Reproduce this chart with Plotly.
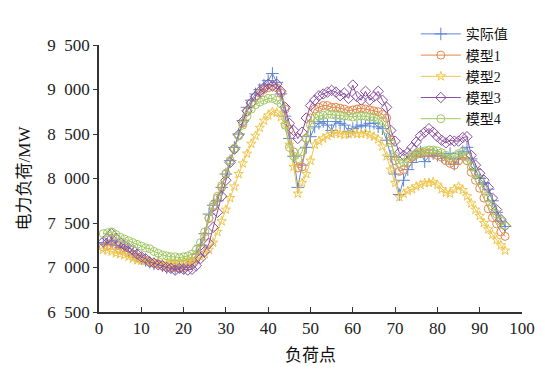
import plotly.graph_objects as go

x_points = list(range(1, 97))

actual = [7280, 7260, 7300, 7250, 7220, 7230, 7180, 7150, 7130, 7100,
          7080, 7060, 7040, 7060, 7020, 7000, 7010, 6990, 7010, 7000,
          7030, 7060, 7150, 7250, 7380, 7600, 7700, 7750, 7900, 8050,
          8200, 8350, 8500, 8650, 8800, 8880, 8950, 9000, 9050, 9100,
          9180, 9080, 8950, 8700, 8450, 8250, 7900, 8150, 8350, 8470,
          8580, 8620, 8640, 8600, 8540, 8640, 8620, 8600, 8530, 8560,
          8580, 8600, 8590, 8620, 8620, 8580, 8560, 8430, 8250, 8050,
          7820, 7980, 8100, 8180, 8250, 8300, 8190, 8250, 8280, 8260,
          8250, 8230, 8280, 8160, 8230, 8300, 8350, 8220, 8100, 8000,
          7950, 7880, 7750, 7620, 7520, 7460]

model1 = [7230, 7250, 7280, 7240, 7200, 7220, 7170, 7150, 7120, 7100,
          7080, 7060, 7050, 7040, 7020, 7010, 7000, 7000, 6990, 7000,
          7020, 7050, 7120, 7220, 7350, 7550, 7680, 7780, 7900, 8050,
          8200, 8330, 8480, 8620, 8750, 8850, 8920, 8960, 9000, 9020,
          9040, 9020, 8960, 8780, 8550, 8300, 8120, 8130, 8450, 8680,
          8780, 8800, 8820, 8820, 8800, 8800, 8790, 8780, 8760, 8770,
          8780, 8790, 8780, 8770, 8760, 8750, 8720, 8680, 8430, 8200,
          8080, 8100, 8180, 8240, 8270, 8280, 8290, 8290, 8280, 8260,
          8240, 8200, 8170, 8150, 8200, 8250, 8200, 8070, 7980, 7890,
          7780, 7660, 7560, 7490, 7400, 7350]

model2 = [7200, 7190, 7180, 7160, 7150, 7140, 7120, 7100, 7080, 7080,
          7070, 7060, 7050, 7050, 7040, 7045, 7050, 7060, 7060, 7070,
          7080, 7080, 7090, 7120, 7150, 7200, 7280, 7400, 7520, 7650,
          7780, 7910, 8050, 8170, 8280, 8390, 8480, 8570, 8650, 8710,
          8750, 8740, 8690, 8600, 8380, 8130, 7830, 7950, 8050, 8200,
          8380, 8420, 8450, 8480, 8500, 8510, 8500, 8490, 8500, 8510,
          8500, 8500, 8510, 8490, 8470, 8440, 8360, 8250, 8100, 7950,
          7790, 7830, 7860, 7880, 7910, 7930, 7950, 7950, 7960, 7930,
          7880, 7840, 7830, 7880, 7910, 7870, 7800, 7720, 7650, 7580,
          7500, 7430, 7370, 7310, 7250, 7190]

model3 = [7290, 7330, 7380, 7330, 7280, 7250, 7220, 7200, 7150, 7120,
          7100, 7060, 7050, 7030, 7020, 7000, 6990, 6970, 6990, 6980,
          6970, 6980, 7020, 7100, 7180, 7270, 7450, 7620, 7800, 7980,
          8180, 8330, 8490, 8640, 8760, 8850, 8920, 8980, 9020, 9060,
          9040, 9060, 8980, 8800, 8620, 8540, 8450, 8520, 8680, 8820,
          8880, 8930, 8950, 8970, 8990, 8970, 8930, 8960, 8900, 9050,
          8920, 8880, 8980, 8880, 8920, 8980, 8880, 8800, 8540, 8420,
          8290, 8260, 8290, 8350, 8410, 8480, 8520, 8560, 8520, 8470,
          8430, 8400, 8430, 8420, 8420, 8460, 8470, 8260, 8150, 8060,
          7980, 7900, 7780, 7650, 7540, 7470]

model4 = [7380, 7390, 7400, 7370, 7340, 7320, 7300, 7280, 7260, 7240,
          7220, 7210, 7180, 7160, 7140, 7130, 7120, 7120, 7110, 7120,
          7130, 7150, 7200, 7280, 7400, 7560, 7700, 7800, 7920, 8060,
          8200, 8340, 8480, 8600, 8700, 8780, 8830, 8860, 8880, 8900,
          8900, 8880, 8840, 8600, 8350, 8250, 8220, 8300, 8450, 8600,
          8680, 8700, 8710, 8720, 8720, 8710, 8710, 8700, 8700, 8690,
          8700, 8700, 8700, 8690, 8690, 8670, 8640, 8550, 8400, 8250,
          8170, 8180, 8220, 8260, 8280, 8300, 8310, 8320, 8320, 8310,
          8290, 8260, 8230, 8250, 8280, 8300, 8240, 8130, 8060, 7980,
          7880, 7780, 7690, 7600, 7520, 7470]

series_names = ["实际值", "模型1", "模型2", "模型3", "模型4"]
series_values = [actual, model1, model2, model3, model4]
series_colors = ["#5b86d6", "#e3874a", "#f0c64c", "#8a4fa0", "#a2c862"]
series_symbols = ["cross-thin-open", "circle-open", "star-open", "diamond-open", "circle-open"]
series_sizes = [9, 8, 7, 8, 8]

y_tickvals = [6500, 7000, 7500, 8000, 8500, 9000, 9500]
y_ticktext = ["6\u2002500", "7\u2002000", "7\u2002500", "8\u2002000",
              "8\u2002500", "9\u2002000", "9\u2002500"]
x_tickvals = [0, 10, 20, 30, 40, 50, 60, 70, 80, 90, 100]

FONT = "Liberation Serif, Times New Roman, Noto Sans CJK SC, serif"

fig = go.Figure()
for name, vals, col, sym, sz in zip(series_names, series_values, series_colors,
                                    series_symbols, series_sizes):
    fig.add_trace(go.Scatter(
        x=x_points, y=vals, name=name, mode="lines+markers",
        line=dict(color=col, width=1),
        marker=dict(symbol=sym, size=sz, color=col, line=dict(color=col, width=1)),
    ))

# page body has an 8px default margin, so the figure is offset by 8px
fig.update_layout(
    width=537, height=366,
    margin=dict(l=91, r=23, t=37, b=62, autoexpand=False),
    paper_bgcolor="white", plot_bgcolor="white",
    font=dict(family=FONT, size=17, color="#222"),
    showlegend=True,
    legend=dict(x=0.749, y=1.10, xanchor="left", yanchor="top",
                bgcolor="rgba(0,0,0,0)", font=dict(size=14, family=FONT, color="#111"),
                itemwidth=40, tracegroupgap=0),
    xaxis=dict(range=[0, 100], tickvals=x_tickvals, ticks="inside", ticklen=5,
               showline=True, linecolor="#333", linewidth=1.5, tickcolor="#333",
               showgrid=False, zeroline=False, mirror=False,
               title=dict(text="负荷点", font=dict(size=17, family=FONT, color="#111"), standoff=12)),
    yaxis=dict(range=[6500, 9500], tickvals=y_tickvals, ticktext=y_ticktext,
               ticks="outside", ticklen=4,
               showline=True, linecolor="#333", linewidth=1.5, tickcolor="#333",
               showgrid=False, zeroline=False, mirror=False,
               title=dict(text="电力负荷/MW", font=dict(size=17, family=FONT, color="#111"), standoff=12)),
)

fig.write_html("out.html")
